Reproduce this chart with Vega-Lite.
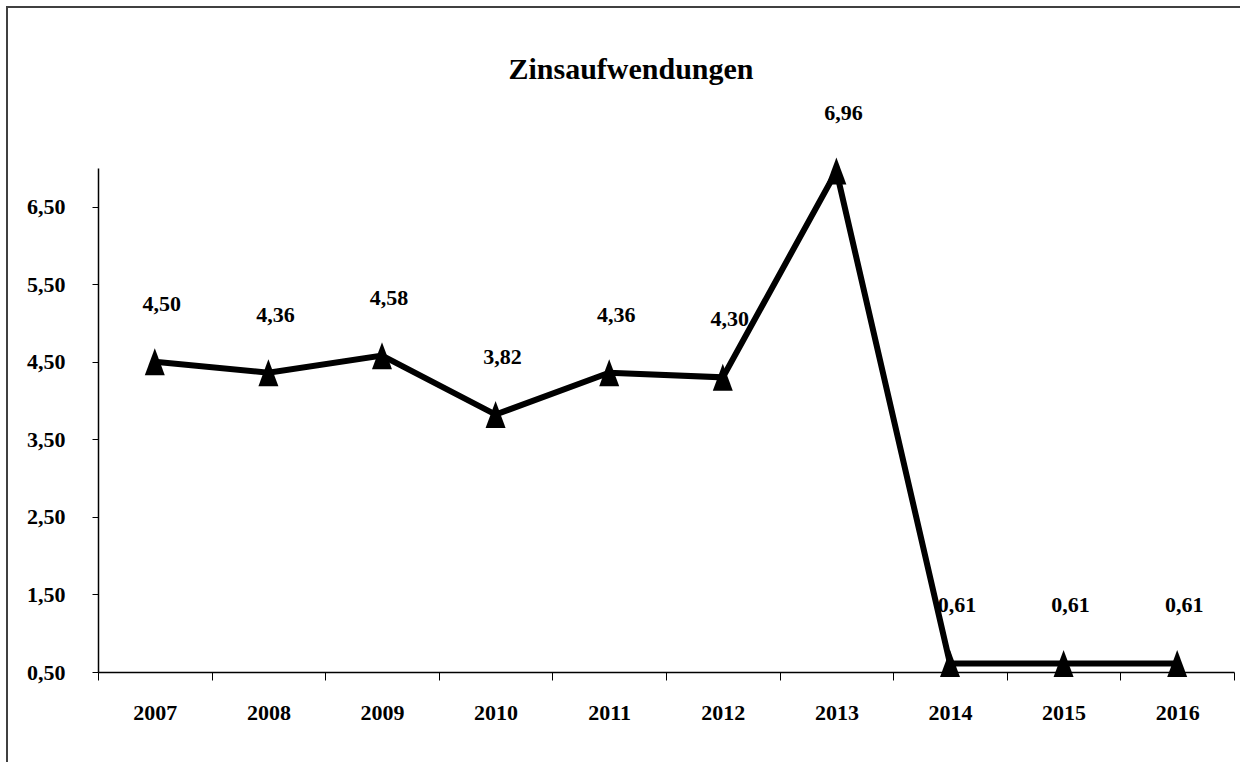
{
  "$schema": "https://vega.github.io/schema/vega-lite/v6.json",
  "autosize": {"type": "none"},
  "padding": {"left": 7, "top": 7, "right": 0, "bottom": 0},
  "width": 1240,
  "height": 760,
  "background": "white",
  "config": {
    "locale": {"number": {"decimal": ",", "thousands": ".", "grouping": [3], "currency": ["", " €"]}},
    "view": {"stroke": "#404040", "strokeWidth": 2},
    "font": "Liberation Serif"
  },
  "title": {
    "text": "Zinsaufwendungen",
    "font": "Liberation Serif",
    "fontSize": 30,
    "fontWeight": "bold",
    "color": "black",
    "anchor": "middle",
    "frame": "group",
    "baseline": "alphabetic",
    "offset": -102,
    "dx": 4
  },
  "data": {
    "values": [
      {"Jahr": "2007", "Wert": 4.50},
      {"Jahr": "2008", "Wert": 4.36},
      {"Jahr": "2009", "Wert": 4.58},
      {"Jahr": "2010", "Wert": 3.82},
      {"Jahr": "2011", "Wert": 4.36},
      {"Jahr": "2012", "Wert": 4.30},
      {"Jahr": "2013", "Wert": 6.96},
      {"Jahr": "2014", "Wert": 0.61},
      {"Jahr": "2015", "Wert": 0.61},
      {"Jahr": "2016", "Wert": 0.61}
    ]
  },
  "encoding": {
    "x": {
      "field": "Jahr",
      "type": "ordinal",
      "scale": {"type": "band", "range": [91, 1227], "paddingInner": 0, "paddingOuter": 0},
      "axis": {
        "title": null,
        "orient": "bottom",
        "offset": -95,
        "labelAngle": 0,
        "labelFont": "Liberation Serif",
        "labelFontSize": 22,
        "labelFontWeight": "bold",
        "labelColor": "black",
        "labelPadding": 22,
        "tickBand": "extent",
        "tickSize": 8,
        "tickColor": "black",
        "domainColor": "black",
        "domainWidth": 1.5,
        "grid": false
      }
    },
    "y": {
      "field": "Wert",
      "type": "quantitative",
      "scale": {"domain": [0.5, 7.0], "range": [665, 161], "nice": false, "zero": false},
      "axis": {
        "title": null,
        "orient": "left",
        "offset": -91,
        "values": [0.5, 1.5, 2.5, 3.5, 4.5, 5.5, 6.5],
        "format": ".2f",
        "labelFont": "Liberation Serif",
        "labelFontSize": 22,
        "labelFontWeight": "bold",
        "labelColor": "black",
        "labelPadding": 27,
        "tickSize": 6,
        "tickColor": "black",
        "domainColor": "black",
        "domainWidth": 1.5,
        "grid": false
      }
    }
  },
  "layer": [
    {"mark": {"type": "line", "color": "black", "strokeWidth": 6}},
    {"mark": {"type": "point", "filled": true, "color": "black", "opacity": 1, "shape": "M-0.74,1L0,-1L0.74,1Z", "size": 729}},
    {
      "mark": {"type": "text", "font": "Liberation Serif", "fontSize": 22, "fontWeight": "bold", "color": "black", "align": "center", "baseline": "middle", "dx": 7, "dy": -58},
      "encoding": {"text": {"field": "Wert", "type": "quantitative", "format": ".2f"}}
    }
  ]
}
